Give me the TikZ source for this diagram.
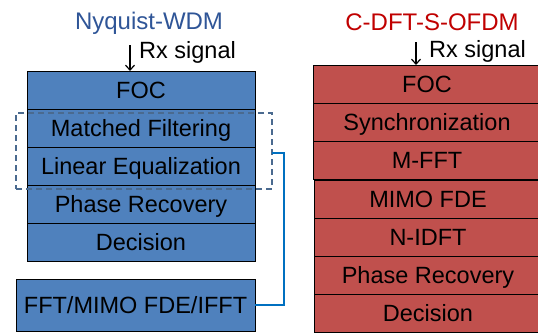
\documentclass[tikz,border=0pt]{standalone}
\usepackage{fontspec}
\setmainfont{Liberation Sans}
\usetikzlibrary{arrows.meta}
\definecolor{blueF}{HTML}{4F81BD}
\definecolor{redF}{HTML}{C0504D}
\definecolor{titleB}{HTML}{2F5597}
\definecolor{titleR}{HTML}{C00000}
\definecolor{dashC}{HTML}{4A6A8F}
\definecolor{linkC}{HTML}{0070C0}
\tikzset{
  stagebox/.style={draw=black, line width=1pt, inner sep=0pt, outer sep=0pt,
    minimum width=228pt, minimum height=38pt, text height=16.8pt, text depth=0pt,
    font=\fontsize{23.5}{26}\selectfont},
  bstage/.style={stagebox, fill=blueF},
  rstage/.style={stagebox, fill=redF},
  ttl/.style={font=\fontsize{24}{27}\selectfont, inner sep=0pt, text height=17.2pt, text depth=0pt},
  rxlbl/.style={font=\fontsize{23.5}{26}\selectfont, inner sep=0pt, anchor=west, text height=16.8pt, text depth=0pt},
  rxarrow/.style={-{Straight Barb[length=5pt,width=9pt,line width=1.2pt]}, line width=1.2pt},
}
\begin{document}
\begin{tikzpicture}[x=1pt,y=-1pt]
\useasboundingbox (0,0) rectangle (538,332);
\clip (0,0) rectangle (538,332);
% left column
\node[ttl, text=titleB] (lt) at (149,21) {Nyquist-WDM};
\node[bstage] (lfoc) at (141,90) {FOC};
\node[bstage] (lmf) at (141,128) {Matched Filtering};
\node[bstage] (lle) at (141,166) {Linear Equalization};
\node[bstage] (lpr) at (141,204) {Phase Recovery};
\node[bstage] (ldec) at (141,242) {Decision};
\node[bstage, minimum width=239pt, minimum height=52pt] (fft) at (135.5,305) {FFT/MIMO FDE/IFFT};
\coordinate (lrxs) at (130,45);
\draw[rxarrow] (lrxs) -- (lrxs |- lfoc.north);
\node[rxlbl] (lrx) at (139,50.5) {Rx signal};
% dashed group
\node[draw=dashC, dashed, dash pattern=on 6pt off 4pt, line width=1.2pt, inner sep=0pt,
  minimum width=256pt, minimum height=76pt] (grp) at (144,151) {};
% link
\coordinate (k1) at (284,305);
\coordinate (k2) at (284,153);
\coordinate (k3) at (272,153);
\draw[linkC, line width=1.4pt] (fft.east) -- (k1) -- (k2) -- (k3);
% right column
\node[ttl, text=titleR] (rt) at (432,22) {C-DFT-S-OFDM};
\node[rstage] (rfoc) at (427,84) {FOC};
\node[rstage] (rsync) at (427,122) {Synchronization};
\node[rstage] (rmfft) at (427,160.5) {M-FFT};
\node[rstage] (rmimo) at (428,199) {MIMO FDE};
\node[rstage] (ridft) at (428,237) {N-IDFT};
\node[rstage] (rpr) at (428,275.5) {Phase Recovery};
\node[rstage] (rdec) at (428,313.5) {Decision};
\coordinate (rrxs) at (416,42);
\draw[rxarrow] (rrxs) -- (rrxs |- rfoc.north);
\node[rxlbl] (rrx) at (429,49.5) {Rx signal};
\end{tikzpicture}
\end{document}
